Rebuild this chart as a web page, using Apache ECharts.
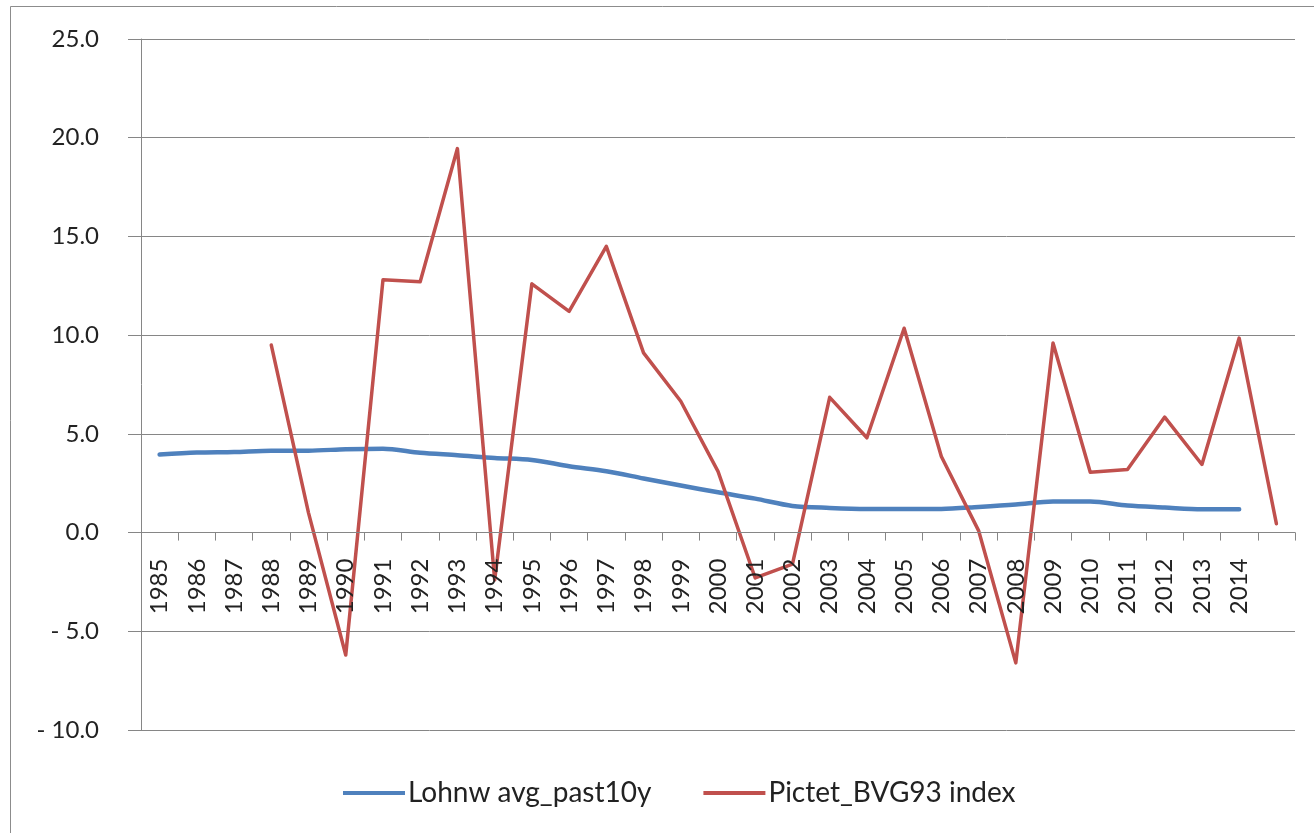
<!DOCTYPE html>
<html>
<head>
<meta charset="utf-8">
<script src="https://cdn.jsdelivr.net/npm/echarts@6/dist/echarts.min.js"></script>
<style>
  html, body { margin: 0; padding: 0; background: #fff; }
  #chart { width: 1314px; height: 833px; }
</style>
</head>
<body>
<div id="chart"></div>
<script>
// Year categories; the last slot carries no label
const categories = ['1985','1986','1987','1988','1989','1990','1991','1992','1993','1994',
  '1995','1996','1997','1998','1999','2000','2001','2002','2003','2004',
  '2005','2006','2007','2008','2009','2010','2011','2012','2013','2014',''];

// Wage growth, average over the past 10 years (%)
const lohnwAvg = [3.95, 4.05, 4.08, 4.15, 4.15, 4.22, 4.25, 4.04, 3.92, 3.78,
  3.68, 3.36, 3.11, 2.74, 2.38, 2.04, 1.72, 1.35, 1.25, 1.20,
  1.20, 1.20, 1.30, 1.42, 1.58, 1.58, 1.37, 1.27, 1.18, 1.18, null];

// Pictet BVG-93 index annual return (%)
const pictetBVG93 = [null, null, null, 9.5, 1.0, -6.2, 12.8, 12.7, 19.45, -2.4,
  12.6, 11.2, 14.5, 9.1, 6.65, 3.1, -2.3, -1.6, 6.85, 4.8,
  10.35, 3.85, 0.1, -6.6, 9.6, 3.05, 3.2, 5.85, 3.45, 9.85, 0.45];

// Value axis range and step
const yMin = -10, yMax = 25, yStep = 5;

const blue = '#4F81BD';
const red = '#C0504D';
const gridGray = '#868686';
const font = 'Lato, "Open Sans", sans-serif';
const labelGap = 26; // space between the zero line and the year labels

const chart = echarts.init(document.getElementById('chart'), null, { renderer: 'canvas' });

chart.setOption({
  animation: false,
  backgroundColor: '#ffffff',
  graphic: [{
    type: 'rect',
    shape: { x: 10.5, y: 6.5, width: 1320, height: 840 },
    style: { fill: 'none', stroke: '#8c8c8c', lineWidth: 1 },
    silent: true
  }],
  grid: { left: 141, right: 19, top: 39, bottom: 103, containLabel: false },
  legend: {
    left: 338,
    top: 774,
    icon: 'rect',
    itemWidth: 62,
    itemHeight: 4,
    itemGap: 52,
    textStyle: { fontFamily: font, fontSize: 28, color: '#222', padding: [0, 0, 0, -2] },
    data: ['Lohnw avg_past10y', 'Pictet_BVG93 index']
  },
  xAxis: {
    type: 'category',
    data: categories,
    boundaryGap: true,
    z: 10,
    axisLine: { onZero: true, lineStyle: { color: gridGray, width: 1 } },
    axisTick: { show: true, length: 8, lineStyle: { color: gridGray } },
    axisLabel: {
      interval: 0,
      rotate: 90,
      margin: labelGap,
      fontFamily: font,
      fontSize: 24,
      color: '#222'
    },
    splitLine: { show: false }
  },
  yAxis: {
    type: 'value',
    min: yMin,
    max: yMax,
    interval: yStep,
    axisLine: { show: true, lineStyle: { color: gridGray, width: 1 } },
    axisTick: { show: true, length: 13, lineStyle: { color: gridGray } },
    axisLabel: {
      margin: 42,
      fontFamily: font,
      fontSize: 24,
      color: '#222',
      formatter: v => (v < 0 ? '- ' + Math.abs(v).toFixed(1) : v.toFixed(1))
    },
    splitLine: { show: true, lineStyle: { color: gridGray, width: 1 } }
  },
  series: [
    {
      name: 'Lohnw avg_past10y',
      type: 'line',
      data: lohnwAvg,
      smooth: 0.3,
      showSymbol: false,
      symbol: 'none',
      color: blue,
      lineStyle: { color: blue, width: 4.5, cap: 'round', join: 'round' },
      z: 3
    },
    {
      name: 'Pictet_BVG93 index',
      type: 'line',
      data: pictetBVG93,
      showSymbol: false,
      symbol: 'none',
      color: red,
      lineStyle: { color: red, width: 3.5, cap: 'round', join: 'round' },
      z: 4
    }
  ]
});

// Year labels hang just below the zero line, wherever the axis labels are anchored
const zeroY = chart.convertToPixel({ yAxisIndex: 0 }, 0);
const bottomY = chart.convertToPixel({ yAxisIndex: 0 }, yMin);
chart.setOption({ xAxis: { axisLabel: { margin: labelGap - (bottomY - zeroY) } } });
</script>
</body>
</html>
